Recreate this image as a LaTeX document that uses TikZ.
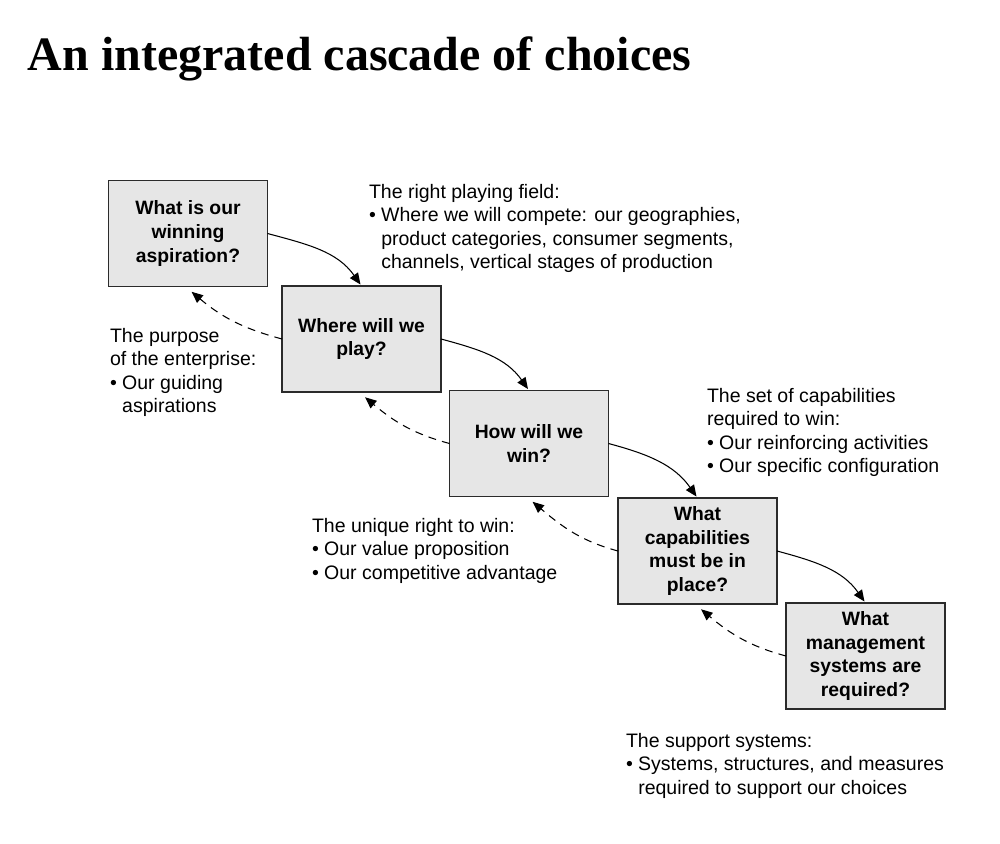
\documentclass[tikz,border=0pt]{standalone}
\usepackage{fontspec}
\setmainfont{Liberation Sans}
\newfontfamily\headfont{Liberation Serif}
\usetikzlibrary{arrows.meta}
\definecolor{boxgray}{HTML}{E6E6E6}
\definecolor{edgegray}{HTML}{2B2B2B}
\newcommand{\bul}{\textbullet\ }
\newcommand{\hang}{\hphantom{\textbullet\ }}
\begin{document}
\begin{tikzpicture}[x=0.02cm,y=-0.02cm,inner sep=0pt,outer sep=0pt,
choice/.style={draw=edgegray,fill=boxgray,rectangle,line width=0.8pt,minimum width=3.18cm,minimum height=2.12cm,align=center,font=\bfseries\fontsize{11pt}{13.4pt}\selectfont},
note/.style={anchor=north west,align=left,font=\fontsize{11.1pt}{13.4pt}\selectfont},
down/.style={->,line width=0.6pt,shorten >=1pt},
back/.style={->,line width=0.6pt,dash pattern=on 4.5pt off 3.5pt},
>={Triangle[length=6.5pt,width=5.5pt]}]
\useasboundingbox (0,0) rectangle (1000,844);
\draw (28,71) node[anchor=base west,font=\headfont\bfseries\fontsize{27.3pt}{30pt}\selectfont] (title) {An integrated cascade of choices};
% the five questions
\draw (188,233.5) node[choice] (aspire) {What is our\\winning\\aspiration?};
\draw (361.5,339) node[choice] (play) {Where will we\\play?};
\draw (529,443.5) node[choice] (win) {How will we\\win?};
\draw (697.5,551) node[choice] (capab) {What\\capabilities\\must be in\\place?};
\draw (865.5,656) node[choice] (mgmt) {What\\management\\systems are\\required?};
% what each choice stands for
\draw (369,184) node[note] (field) {The right playing field:\\\bul Where we will compete: our geographies,\\\hang product categories, consumer segments,\\\hang channels, vertical stages of production};
\draw (110,328) node[note] (purpose) {The purpose\\of the enterprise:\\\bul Our guiding\\\hang aspirations};
\draw (707,388) node[note] (capset) {The set of capabilities\\required to win:\\\bul Our reinforcing activities\\\bul Our specific configuration};
\draw (312,518) node[note] (right) {The unique right to win:\\\bul Our value proposition\\\bul Our competitive advantage};
\draw (626,733) node[note] (support) {The support systems:\\\bul Systems, structures, and measures\\\hang required to support our choices};
% cascade down
\draw[down] (aspire.east) to[out=-15,in=125] (play.north);
\draw[down] (play.east) to[out=-15,in=125] (win.north);
\draw[down] (win.east) to[out=-15,in=125] (capab.north);
\draw[down] (capab.east) to[out=-15,in=125] (mgmt.north);
% feedback up
\draw[back] (play.west) to[out=165,in=-40] ([xshift=2pt,yshift=-3pt]aspire.south);
\draw[back] (win.west) to[out=165,in=-40] ([xshift=2pt,yshift=-3pt]play.south);
\draw[back] (capab.west) to[out=165,in=-40] ([xshift=2pt,yshift=-3pt]win.south);
\draw[back] (mgmt.west) to[out=165,in=-40] ([xshift=2pt,yshift=-3pt]capab.south);
\end{tikzpicture}
\end{document}
